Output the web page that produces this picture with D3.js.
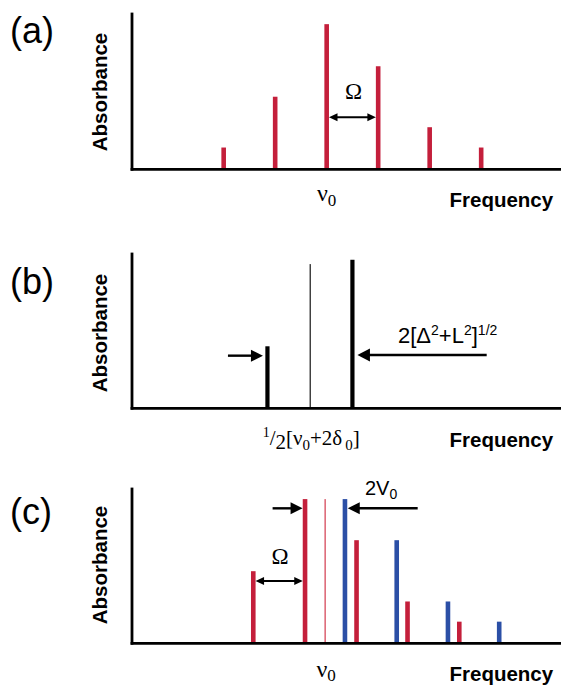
<!DOCTYPE html>
<html>
<head>
<meta charset="utf-8">
<script src="https://cdn.jsdelivr.net/npm/d3@7"></script>
<style>
  body { margin: 0; background: #fff; }
  svg { display: block; }
  .sans { font-family: "Liberation Sans", Arial, Helvetica, sans-serif; }
  .serif { font-family: "Liberation Serif", "Times New Roman", serif; }
</style>
</head>
<body>
<script>
// panel (a): progression of lines, spacing Omega, frequency in units of Omega
var freqA = [-2, -1, 0, 1, 2, 3];
var absA = [0.15, 0.50, 1.00, 0.71, 0.29, 0.15];

// panel (b): split pair + thin centre line
var freqB = [-1.15, 0.50];
var absB = [0.43, 1.03];
var centreB = [-0.32];
var centreAbsB = [1.00];

// panel (c): red / blue progressions, thin nu0 line
var freqRed = [-1.425, -0.42, 0.58, 1.57, 2.575];
var absRed = [0.50, 1.00, 0.715, 0.29, 0.15];
var freqBlue = [0.355, 1.36, 2.355, 3.35];
var absBlue = [1.00, 0.715, 0.29, 0.15];
var nu0C = [-0.03];
var nu0AbsC = [1.00];

var panelLetters = ["(a)", "(b)", "(c)"];
var xText = "Frequency", yText = "Absorbance";

var width = 561, height = 685;
var red = "#c41f3b", blue = "#2b4fa6", thinRed = "#d23a4e";

var svg = d3.select("body").append("svg")
    .attr("width", width)
    .attr("height", height);

// shared frequency scale
var xScale = d3.scaleLinear().domain([-3.78, 4.55]).range([132, 561]);

var panels = [
    {top: 14, base: 169.3, letterY: 43, absY: 92, freqY: 207},
    {top: 254, base: 408.3, letterY: 294, absY: 333, freqY: 446.5},
    {top: 489, base: 643.3, letterY: 524, absY: 565, freqY: 680.5}
];
panels.forEach(function(p) {
    p.y = d3.scaleLinear().domain([0, 1.07]).range([p.base, p.top]);
    p.g = svg.append("g");
});

function drawBars(p, freqs, vals, color, w) {
    p.g.append("g")
      .selectAll("rect")
      .data(d3.zip(freqs, vals))
      .join("rect")
        .attr("x", (d) => xScale(d[0]) - w / 2)
        .attr("y", (d) => p.y(d[1]))
        .attr("width", w)
        .attr("height", (d) => p.y(0) - p.y(d[1]))
        .attr("fill", color);
}

// arrow from x1 to x2 (tip at x2), optional head at x1 too
function arrow(g, x1, x2, y, head, sw, both) {
    var dir = x2 > x1 ? 1 : -1;
    var L = head[0], H = head[1];
    g.append("line")
        .attr("x1", both ? x1 + dir * (L - 1) : x1)
        .attr("x2", x2 - dir * (L - 1))
        .attr("y1", y).attr("y2", y)
        .attr("stroke", "#000")
        .attr("stroke-width", sw);
    var tips = both ? [[x2, dir], [x1, -dir]] : [[x2, dir]];
    tips.forEach(function(t) {
        g.append("path")
            .attr("d", "M" + t[0] + "," + y +
                "L" + (t[0] - t[1] * L) + "," + (y - H / 2) +
                "L" + (t[0] - t[1] * L) + "," + (y + H / 2) + "Z")
            .attr("fill", "#000");
    });
}

// bars
drawBars(panels[0], freqA, absA, red, 4.6);
drawBars(panels[1], freqB, absB, "#000", 4.2);
drawBars(panels[1], centreB, centreAbsB, "#000", 1.1);
drawBars(panels[2], nu0C, nu0AbsC, thinRed, 1.2);
drawBars(panels[2], freqRed, absRed, red, 4.6);
drawBars(panels[2], freqBlue, absBlue, blue, 4.6);

// axes (no ticks, just the domain lines)
panels.forEach(function(p, i) {
    p.g.append("g")
        .attr("class", "x axis")
        .attr("transform", "translate(0," + p.base + ")")
        .call(d3.axisBottom(xScale).tickValues([]).tickSizeOuter(0))
        .call((a) => a.select(".domain")
            .attr("d", "M" + xScale.range()[0] + ",0H" + xScale.range()[1])
            .attr("stroke", "#000").attr("stroke-width", 2.8)
            .attr("stroke-linecap", "square"));

    p.g.append("g")
        .attr("class", "y axis")
        .attr("transform", "translate(" + xScale.range()[0] + ",0)")
        .call(d3.axisLeft(p.y).tickValues([]).tickSizeOuter(0))
        .call((a) => a.select(".domain")
            .attr("d", "M0," + p.y.range()[1] + "V" + p.y.range()[0])
            .attr("stroke", "#000").attr("stroke-width", 2.8)
            .attr("stroke-linecap", "square"));

    // panel letter
    svg.append("text")
        .attr("class", "sans")
        .attr("x", 10)
        .attr("y", p.letterY)
        .attr("font-size", 36)
        .text(panelLetters[i]);

    // y label
    svg.append("text")
        .attr("class", "sans")
        .attr("transform", "translate(107," + p.absY + ") rotate(-90)")
        .attr("text-anchor", "middle")
        .attr("font-size", 20.5)
        .attr("font-weight", "bold")
        .text(yText);

    // x label
    svg.append("text")
        .attr("class", "sans")
        .attr("x", 449.5)
        .attr("y", p.freqY)
        .attr("font-size", 20.5)
        .attr("font-weight", "bold")
        .text(xText);
});

// text built from pieces: [string, fontSize, dy, dx]
function richText(x, y, cls, anchor, parts) {
    var t = svg.append("text")
        .attr("class", cls)
        .attr("x", x)
        .attr("y", y)
        .attr("text-anchor", anchor);
    parts.forEach(function(s) {
        t.append("tspan")
            .attr("font-size", s[1])
            .attr("dy", s[2] || 0)
            .attr("dx", s[3] || 0)
            .text(s[0]);
    });
    return t;
}

// --- panel (a) annotations
var pa = panels[0];
arrow(pa.g, xScale(0) + 2.3, xScale(1) - 2.3, pa.y(0.358), [8.5, 8], 2, true);
richText((xScale(0) + xScale(1)) / 2 + 1, 99.3, "serif", "middle", [["\u03A9", 23]]);
richText(xScale(0), 201, "serif", "middle", [["\u03BD", 24], ["0", 17, 5]]);

// --- panel (b) annotations
var pb = panels[1];
arrow(pb.g, xScale(-1.917), xScale(freqB[0]) - 4.5, pb.y(0.365), [12, 12], 2.4, false);
arrow(pb.g, xScale(3.107), xScale(freqB[1]) + 5, pb.y(0.37), [12.5, 13], 2.4, false);
richText(398, 342.7, "sans", "start", [
    ["2[\u0394", 22], ["2", 14, -8], ["+L", 22, 8], ["2", 14, -8], ["]", 22, 8], ["1/2", 14, -8]
]);
richText(xScale(centreB[0]) + 1, 445, "serif", "middle", [
    ["1", 14, -8], ["/", 21, 8], ["2", 21, 4], ["[\u03BD", 21, -4], ["0", 15, 5],
    ["+2\u03B4", 21, -5], ["0", 15, 5, 3], ["]", 21, -5]
]);

// --- panel (c) annotations
var pc = panels[2];
arrow(pc.g, xScale(-1.425) + 2.3, xScale(-0.42) - 2.3, pc.y(0.432), [8.5, 8], 2, true);
arrow(pc.g, xScale(-1.05), xScale(freqRed[1]) - 2.5, pc.y(0.936), [12, 12], 2.4, false);
arrow(pc.g, xScale(1.767), xScale(freqBlue[0]) + 2.8, pc.y(0.936), [12, 12], 2.4, false);
richText((xScale(freqRed[0]) + xScale(freqRed[1])) / 2 + 1, 564, "serif", "middle", [["\u03A9", 23]]);
richText(365, 495, "sans", "start", [["2V", 20], ["0", 14, 4]]);
richText(xScale(nu0C[0]) + 1, 677, "serif", "middle", [["\u03BD", 24], ["0", 17, 4]]);
</script>
</body>
</html>
